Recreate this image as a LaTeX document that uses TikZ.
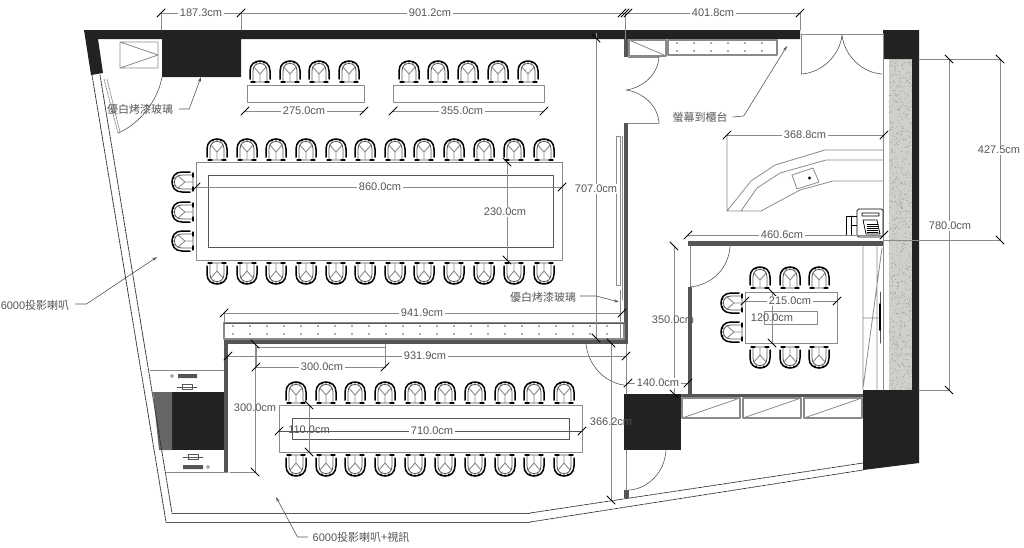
\documentclass[tikz,border=0pt]{standalone}
\usepackage{fontspec}
\setmainfont{Liberation Sans}
\newfontfamily\cjk{Noto Sans CJK TC}
\usetikzlibrary{arrows.meta}
\definecolor{wallblack}{HTML}{222222}
\definecolor{walldark}{HTML}{555555}
\definecolor{dimgray}{HTML}{8A8A8A}
\definecolor{textgray}{HTML}{555555}
\definecolor{stone}{HTML}{CFCFCB}
\tikzset{
  wall/.style={fill=wallblack,draw=none},
  inwall/.style={fill=walldark,draw=none},
  thin line/.style={draw=dimgray,line width=.8pt},
  dimline/.style={draw=dimgray,line width=.8pt},
  tick/.style={draw=black,line width=.8pt},
  dimlabel/.style={text=textgray,fill=white,inner sep=1.5pt},
  overlabel/.style={text=textgray,inner sep=0pt},
  leader/.style={draw=walldark,line width=.6pt,-{Stealth[length=5pt,width=3pt]}},
  chair/.pic={
    \draw[walldark,line width=.8pt] (-7,10)--(-7,-1) .. controls (-7,-7) and (-3,-8.5) .. (0,-8.5) .. controls (3,-8.5) and (7,-7) .. (7,-1) -- (7,10) -- cycle;
    \draw[dimgray,line width=.9pt] (0,10)--(0,2)--(-6,-5) (0,2)--(6,-5);
    \draw[black,line width=1.5pt] (-10,7) -- (-10,-1) .. controls (-10,-8) and (-5,-11) .. (0,-11) .. controls (5,-11) and (10,-8) .. (10,-1) -- (10,7);
    \draw[black,line width=1.1pt] (-9,10)--(-5,10) (5,10)--(9,10);
    \fill[black] (-4,-9.5) circle (1.1) (4,-9.5) circle (1.1) (0,-10.5) circle (1.1);
  },
  speaker/.pic={
    \draw[walldark,line width=.6pt] (-10,0)--(10,0) (-5,-2.5)--(5,-2.5) (-5,2.5)--(5,2.5) (-5,-2.5) -- (-5,2.5) (5,-2.5) -- (5,2.5);
  },
}
\begin{document}
\begin{tikzpicture}[x=1pt,y=-1pt,font=\fontsize{11}{11}\selectfont,line join=round,line cap=round]
\useasboundingbox (0,0) rectangle (1024,547);
\pgfmathsetseed{7}
% stone and black walls
\fill[stone] (889,59) rectangle (912,390);
\foreach \i in {1,...,700}\fill[black!45] ({889+23*rnd},{59+331*rnd}) circle (.45);
\fill[wall] (84,30)--(800,30)--(800,39)--(241,39)--(241,77)--(162,77)--(162,39)--(98,39)--(103,73)--(91,75)--cycle;
\fill[wall] (883,30)--(919,30)--(919,390)--(912,390)--(912,59)--(883,59)--cycle;
\fill[wall] (863,390)--(919,390)--(919,463)--(863,470)--cycle;
\fill[wall] (624,394) rectangle (681,450);
\fill[wall] (172,392) rectangle (227,450);
\fill[walldark!90] (153,392)--(172,392)--(172,450)--(159,450)--cycle;
% inner walls
\fill[inwall] (224,339) rectangle (628,344);
\fill[inwall] (224,339) rectangle (228,472);
\fill[inwall] (624,123) rectangle (628,344);
\fill[inwall] (624,39) rectangle (628,57);
\fill[inwall] (688,241) rectangle (883,246);
\fill[inwall] (688,287) rectangle (692,394);
\fill[inwall] (681,394) rectangle (863,397);
\fill[inwall] (624,490) rectangle (629,498);
\draw[thin line] (626,450)--(626,490);
\draw[thin line] (626,344)--(626,394);
% outer windows
\draw[black!80,line width=.8pt,dash pattern=on 2pt off 1pt] (92,75)--(166,522) (100,75)--(172,513);
\draw[walldark,line width=.8pt] (166,522)--(530,522) (172,513)--(530,513);
\draw[black!80,line width=.7pt,dash pattern=on 4pt off 1pt] (530,522)--(863,470) (530,513)--(863,463);
\draw[dimgray,line width=.7pt,dash pattern=on 2pt off 1pt] (104,79)--(118,133) (107,79)--(120,132);
\draw[walldark,line width=.6pt] (118,133) .. controls (140,124) and (158,100) .. (162,77);
% shaft and shelves
\draw[thin line] (120,42) rectangle (158,68) (120,42)--(158,55)--(120,68);
\draw[dimgray,line width=1.2pt] (629,40) rectangle (666,56);
\draw[thin line] (629,40)--(664,55);
\draw[dimgray,line width=1.2pt] (668,40) rectangle (777,55);
\foreach \x in {677,694,711,728,745,762}\fill[walldark] (\x,43) circle (.8) (\x,51) circle (.8);
\draw[dimgray,line width=1.2pt] (224,323) rectangle (624,339);
\draw[walldark,line width=1pt] (224,323)--(624,323);
\foreach \x in {233,250,...,610}\fill[walldark] (\x,326) circle (.8) (\x,334) circle (.8);
\draw[thin line] (620,290)--(620,339);
\draw[thin line] (616,136) rectangle (620,285) (622,136)--(622,300);
% doors
\draw[thin line] (628,57)--(659,57) (628,123)--(659,123);
\draw[walldark,line width=.6pt] (659,57) .. controls (658,75) and (642,88) .. (626,90) .. controls (642,92) and (658,105) .. (659,123);
\draw[thin line] (801,34)--(883,34) (801,34)--(801,74) (883,34)--(883,74);
\draw[walldark,line width=.6pt] (801,74) .. controls (822,73) and (840,55) .. (842,35) .. controls (844,55) and (862,73) .. (882,74);
\draw[thin line] (690,246)--(690,287);
\draw[walldark,line width=.6pt] (690,287) .. controls (712,285) and (729,268) .. (730,246);
\draw[walldark,line width=.6pt] (586,344) .. controls (588,365) and (605,383) .. (624,385);
\draw[walldark,line width=.6pt] (666,450) .. controls (665,472) and (648,489) .. (629,490);
% reception counter
\draw[thin line] (727,135)--(727,211)--(761,211) (727,211)--(751,181)--(775,165)--(825,150)--(883,150) (741,211)--(757,188)--(780,173)--(826,160)--(883,160) (761,211)--(800,190)--(833,181)--(883,181);
\draw[thin line,fill=white] (792,175)--(813,168)--(819,182)--(797,189)--cycle;
\fill[black] (809.5,178) circle (1.6);
\draw[thin line] (883,34)--(883,390);
% printer
\draw[black,line width=.7pt] (846,216) rectangle (857,235) (851,216)--(851,235) (851,225)--(857,225);
\draw[black,fill=white,line width=.7pt,rounded corners=1.5pt] (857,209) rectangle (883,237);
\draw[black,line width=.7pt] (862,213) rectangle (879,216) (863,220)--(877,220)--(880,234)--(866,234)--cycle;
\foreach \y in {224,226,...,232}\draw[black,line width=.5pt] (867,\y)--(878,\y);
% small room side
\draw[thin line] (863,246)--(863,390) (877,246)--(877,390) (863,388)--(882,248) (863,318)--(880,318);
\draw[walldark,line width=1pt] (880,292)--(880,343);
\draw[black,line width=1.5pt] (880,304)--(880,330);
\foreach \x in {682,743,804}{
  \draw[dimgray,line width=1.2pt] (\x,398) rectangle ++(58,20);
  \draw[thin line] (\x,418)--++(58,-20);
}
% tables
\draw[thin line] (247,85) rectangle (364,102) (393,85) rectangle (544,102);
\draw[thin line] (196,162) rectangle (562,260);
\draw[walldark,line width=.8pt] (208,175) rectangle (553,247);
\draw[thin line] (745,292) rectangle (837,343) (764,311) rectangle (817,324);
\draw[thin line] (279,405) rectangle (582,452);
\draw[walldark,line width=.8pt] (292,418) rectangle (569,439);
\foreach \x in {260,290,319,349,409,438,468,498,528}\pic at (\x,72) {chair};
\foreach \x in {217,247,276,306,336,365,395,424,454,484,514,544}{
  \pic at (\x,150) {chair};
  \pic[rotate=180] at (\x,273) {chair};
}
\foreach \y in {182,212,241}\pic[rotate=90] at (183,\y) {chair};
\foreach \x in {296,326,355,385,415,445,475,505,534,564}{
  \pic at (\x,393) {chair};
  \pic[rotate=180] at (\x,465) {chair};
}
\foreach \x in {760,790,819}{
  \pic at (\x,278) {chair};
  \pic[rotate=180] at (\x,357) {chair};
}
\foreach \y in {303,332}\pic[rotate=90] at (732,\y) {chair};
% left speakers
\draw[thin line] (150,370)--(224,370) (166,472)--(228,472);
\fill[walldark] (178,374) rectangle (197,378) (183,465) rectangle (203,469);
\draw[walldark,line width=.5pt] (172,376) circle (1.5) (208,467) circle (1.5);
\pic at (187,387) {speaker};
\pic at (193,457) {speaker};
% dimensions
\draw[dimline] (161,13)--(800,13) (161,13)--(161,30) (241,13)--(241,30) (625,13)--(625,39) (800,13)--(800,30);
\draw[dimline] (245,111)--(364,111) (393,111)--(544,111);
\draw[dimline] (196,187)--(562,187) (507,162)--(507,260) (596,33)--(596,338);
\draw[dimline] (224,313)--(622,313) (224,313)--(224,323);
\draw[dimline] (228,356)--(626,356) (611,343)--(611,500);
\draw[dimline] (256,347)--(385,347) (256,347)--(256,367)--(385,367)--(385,344);
\draw[dimline] (255,344)--(255,472)--(230,472);
\draw[dimline] (309,405)--(309,452);
\draw[walldark,line width=.8pt] (279,431)--(582,431);
\draw[dimline] (688,235)--(884,235) (727,135)--(884,135);
\draw[dimline] (919,59)--(1000,59)--(1000,240)--(884,240) (949,59)--(949,390)--(919,390);
\draw[dimline] (674,246)--(674,394) (628,383)--(688,383);
\draw[dimline] (745,301)--(837,301) (772,292)--(772,343);
\foreach \x/\y in {161/13,241/13,622/13,625/13,628/13,800/13,245/111,393/111,544/111,364/111,196/187,562/187,224/313,622/313,228/356,626/356,256/367,385/367,279/431,582/431,688/235,884/235,727/135,884/135,628/383,688/383,745/301,837/301}
  \draw[tick] (\x-4,\y+4)--(\x+4,\y-4);
\foreach \x/\y in {596/38,596/338,507/162,507/260,611/343,611/500,255/344,255/472,309/405,309/452,674/246,674/394,772/292,772/343,949/59,1000/59,1000/240,949/390}
  \draw[tick] (\x-4,\y-4)--(\x+4,\y+4);
% labels
\node[dimlabel] (dim1873) at (201,13) {187.3cm};
\node[dimlabel] (dim9012) at (430,13) {901.2cm};
\node[dimlabel] (dim4018) at (713,13) {401.8cm};
\node[dimlabel] (dim2750) at (304,111) {275.0cm};
\node[dimlabel] (dim3550) at (462,111) {355.0cm};
\node[dimlabel] (dim8600) at (380,187) {860.0cm};
\node[dimlabel] (dim2300) at (505,212) {230.0cm};
\node[dimlabel] (dim7070) at (596,189) {707.0cm};
\node[dimlabel] (dim9419) at (422,313) {941.9cm};
\node[dimlabel] (dim9319) at (425,356) {931.9cm};
\node[dimlabel] (dim3000a) at (322,367) {300.0cm};
\node[overlabel] (dim3000b) at (255,408) {300.0cm};
\node[overlabel] (dim1100) at (309,430) {110.0cm};
\node[dimlabel] (dim7100) at (432,431) {710.0cm};
\node[overlabel] (dim3662) at (611,422) {366.2cm};
\node[dimlabel] (dim1400) at (658,383) {140.0cm};
\node[overlabel] (dim3500) at (673,320) {350.0cm};
\node[dimlabel] (dim2150) at (790,301) {215.0cm};
\node[overlabel] (dim1200) at (772,318) {120.0cm};
\node[dimlabel] (dim4606) at (782,235) {460.6cm};
\node[dimlabel] (dim3688) at (805,135) {368.8cm};
\node[dimlabel] (dim7800) at (950,226) {780.0cm};
\node[dimlabel] (dim4275) at (999,150) {427.5cm};
\node[overlabel] (glassa) at (140,109) {\cjk 優白烤漆玻璃};
\node[overlabel] (glassb) at (543,297) {\cjk 優白烤漆玻璃};
\node[overlabel] (screen) at (700,117) {\cjk 螢幕到櫃台};
\node[overlabel] (spka) at (35,305) {6000\cjk 投影喇叭};
\node[overlabel] (spkb) at (361,537) {6000\cjk 投影喇叭+視訊};
\coordinate (tipa) at (201,77);
\coordinate (tipb) at (619,302);
\coordinate (tipc) at (787,46);
\coordinate (tipd) at (157,257);
\coordinate (tipe) at (276,497);
\draw[leader] (glassa.east)++(6,0)--++(10,0)--(tipa);
\draw[leader] (glassb.east)++(4,-1)--++(16,0)--(tipb);
\draw[leader] (screen.east)++(5,0)--++(11,-1)--(tipc);
\draw[leader] (spka.east)++(6,-1)--++(11,0)--(tipd);
\draw[leader] (spkb.west)++(-5,0)--++(-10,0)--(tipe);
\end{tikzpicture}
\end{document}
